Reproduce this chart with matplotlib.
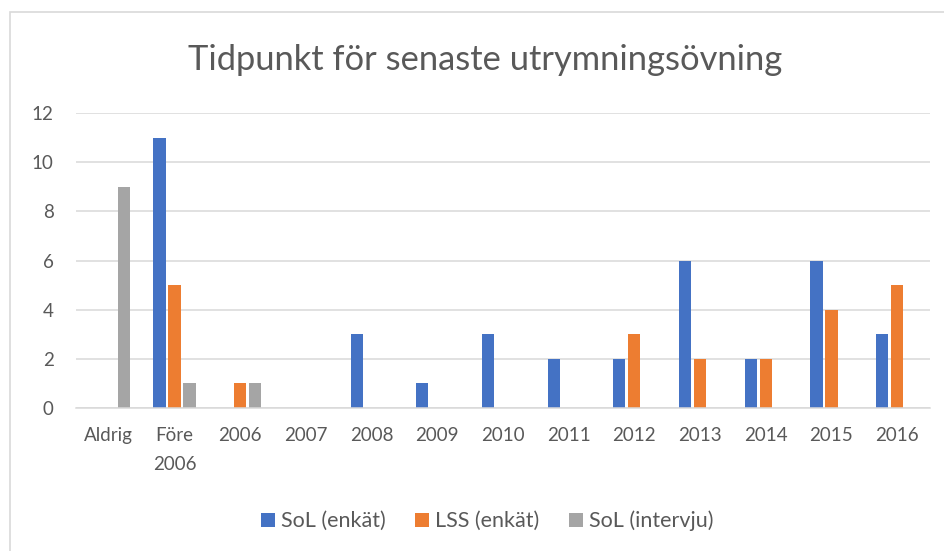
import numpy as np
import matplotlib.pyplot as plt
from matplotlib.patches import Rectangle

# Data
kategorier = ["Aldrig", "Före\n2006", "2006", "2007", "2008", "2009", "2010",
              "2011", "2012", "2013", "2014", "2015", "2016"]
sol_enkat = [0, 11, 0, 0, 3, 1, 3, 2, 2, 6, 2, 6, 3]
lss_enkat = [0, 5, 1, 0, 0, 0, 0, 0, 3, 2, 2, 4, 5]
sol_intervju = [9, 1, 1, 0, 0, 0, 0, 0, 0, 0, 0, 0, 0]
serier = ["SoL (enkät)", "LSS (enkät)", "SoL (intervju)"]
farger = ["#4472C4", "#ED7D31", "#A5A5A5"]

plt.rcParams['font.family'] = ['Lato', 'DejaVu Sans']
textfarg = "#595959"
gridfarg = "#D9D9D9"

fig = plt.figure(figsize=(9.44, 5.51), dpi=100)
W, H = 944, 551

# chart area border
fig.patches.append(Rectangle((10 / W, -0.01), 1.0, 1 - 12 / H + 0.01,
                             transform=fig.transFigure, fill=False,
                             edgecolor=gridfarg, linewidth=1.2))

ax = fig.add_axes([76 / W, 1 - 408 / H, (930 - 76) / W, (408 - 113) / H])

x = np.arange(len(kategorier))
bredd = 0.185
steg = 0.228
for i, (varden, namn, farg) in enumerate(zip([sol_enkat, lss_enkat, sol_intervju], serier, farger)):
    ax.bar(x + (i - 1) * steg, varden, width=bredd, color=farg, label=namn, zorder=3)

ax.set_xlim(-0.5, len(kategorier) - 0.5)
ax.set_ylim(0, 12)
ax.set_yticks(range(0, 13, 2))
ax.set_xticks(x)
ax.set_xticklabels(kategorier, linespacing=1.85)
ax.tick_params(axis='both', length=0, labelsize=13.5, colors=textfarg)
ax.tick_params(axis='x', pad=14)
ax.tick_params(axis='y', pad=16)
for lab in ax.get_xticklabels():
    lab.set_verticalalignment('top')
ax.grid(axis='y', color=gridfarg, linewidth=1.1, zorder=0)
for s in ['top', 'right', 'left']:
    ax.spines[s].set_visible(False)
ax.spines['bottom'].set_color(gridfarg)
ax.spines['bottom'].set_linewidth(1.1)
ax.spines['bottom'].set_zorder(4)

fig.text(485 / W, 1 - 60 / H, "Tidpunkt för senaste utrymningsövning",
         ha='center', va='center', fontsize=24.8, color=textfarg)

fig.legend(loc='center', bbox_to_anchor=(487 / W, 1 - 521 / H), ncol=3,
           frameon=False, fontsize=15.5, labelcolor=textfarg,
           handlelength=0.65, handleheight=0.65, handletextpad=0.3, columnspacing=1.35)

plt.savefig("out.png", dpi=100)
